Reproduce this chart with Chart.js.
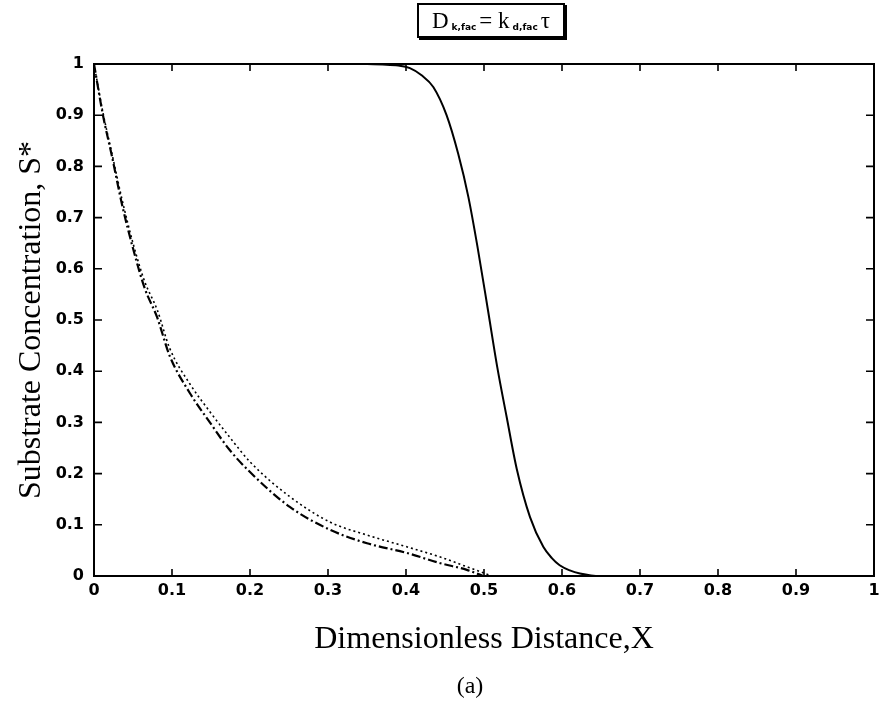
<!DOCTYPE html>
<html lang="en">
<head>
    <meta charset="UTF-8">
    <title>Substrate Concentration</title>
    <script src="https://cdn.jsdelivr.net/npm/chart.js"></script>
    <style>
        body { margin: 0; background: #fff; }
        .janela { position: relative; width: 879px; height: 706px; }
        .caixa-titulo {
            position: absolute; left: 417px; top: 3px; width: 144px; height: 31px;
            border: 2px solid #000; box-shadow: 2px 2px 0 #000;
            font-family: "Liberation Serif", serif; font-size: 23px; line-height: 31px;
            text-align: center; color: #000;
        }
        .caixa-titulo sub { font-family: "DejaVu Sans", sans-serif; font-weight: bold; font-size: 9px; vertical-align: -2px; margin: 0 3px; }
        .legenda-a {
            position: absolute; left: 0; width: 940px; top: 672px; text-align: center;
            font-family: "Liberation Serif", serif; font-size: 24px; color: #000;
        }
    </style>
</head>
<body>
<div class="janela">
    <canvas id="myChart"></canvas>
    <div class="caixa-titulo">D<sub>k,fac</sub>= k<sub>d,fac</sub>&tau;</div>
    <div class="legenda-a">(a)</div>
</div>

<script>
  // curva continua
  const xSolida = [0, 0.1, 0.2, 0.3, 0.35, 0.37, 0.39, 0.405, 0.42, 0.435, 0.452, 0.467, 0.48, 0.492, 0.505, 0.517, 0.529, 0.542, 0.559, 0.576, 0.587, 0.597, 0.61, 0.623, 0.649, 0.7, 0.8, 0.9, 1.0];
  const ySolida = [1, 1, 1, 1, 1, 0.999, 0.997, 0.992, 0.978, 0.955, 0.90, 0.824, 0.74, 0.64, 0.52, 0.408, 0.311, 0.209, 0.115, 0.057, 0.035, 0.021, 0.011, 0.005, 0, 0, 0, 0, 0];

  // curva tracejada
  const xTracejada = [0, 0.0115, 0.023, 0.036, 0.05, 0.065, 0.081, 0.097, 0.123, 0.149, 0.174, 0.2, 0.251, 0.303, 0.35, 0.401, 0.444, 0.478, 0.499];
  const yTracejada = [1, 0.9, 0.82, 0.725, 0.64, 0.562, 0.505, 0.43, 0.357, 0.299, 0.246, 0.203, 0.135, 0.090, 0.064, 0.045, 0.025, 0.012, 0];

  // curva pontilhada
  const xPontilhada = [0, 0.0115, 0.023, 0.036, 0.05, 0.065, 0.081, 0.097, 0.123, 0.149, 0.174, 0.2, 0.251, 0.303, 0.35, 0.401, 0.444, 0.478, 0.51];
  const yPontilhada = [1, 0.905, 0.825, 0.735, 0.65, 0.575, 0.52, 0.445, 0.375, 0.32, 0.271, 0.223, 0.155, 0.105, 0.080, 0.057, 0.037, 0.018, 0];

  const ticksX = [0, 0.1, 0.2, 0.3, 0.4, 0.5, 0.6, 0.7, 0.8, 0.9, 1];
  const ticksY = [0, 0.1, 0.2, 0.3, 0.4, 0.5, 0.6, 0.7, 0.8, 0.9, 1];

  function pontos(xs, ys) {
      return xs.map((x, i) => ({ x: x, y: ys[i] }));
  }

  function rotulo(v) {
      let r = Math.round(v * 10) / 10;
      return r === 0 ? '0' : r === 1 ? '1' : r.toFixed(1);
  }

  // moldura com marcas para dentro (estilo matlab)
  const moldura = {
      id: 'moldura',
      afterDraw(chart) {
          const ctx = chart.ctx;
          const a = chart.chartArea;
          const sx = chart.scales.x, sy = chart.scales.y;
          ctx.save();
          ctx.strokeStyle = '#000';
          ctx.lineWidth = 2;
          ctx.strokeRect(a.left, a.top, a.right - a.left, a.bottom - a.top);
          ctx.lineWidth = 1.6;
          ctx.beginPath();
          ticksX.forEach(function (t) {
              let px = sx.getPixelForValue(t);
              ctx.moveTo(px, a.bottom); ctx.lineTo(px, a.bottom - 7);
              ctx.moveTo(px, a.top); ctx.lineTo(px, a.top + 7);
          });
          ticksY.forEach(function (t) {
              let py = sy.getPixelForValue(t);
              ctx.moveTo(a.left, py); ctx.lineTo(a.left + 8, py);
              ctx.moveTo(a.right, py); ctx.lineTo(a.right - 8, py);
          });
          ctx.stroke();
          ctx.restore();
      }
  };

  const fonteTick = { family: '"DejaVu Sans", sans-serif', size: 16, weight: 'bold' };
  const fonteTitulo = { family: '"Liberation Serif", serif', size: 32 };

  const dados = {
      datasets: [{
          label: 'continua',
          data: pontos(xSolida, ySolida),
          borderColor: '#000',
          borderWidth: 2,
          cubicInterpolationMode: 'monotone',
          pointRadius: 0,
          clip: 4
      }, {
          label: 'tracejada',
          data: pontos(xTracejada, yTracejada),
          borderColor: '#000',
          borderWidth: 2.2,
          borderDash: [9, 3, 2, 3],
          cubicInterpolationMode: 'monotone',
          pointRadius: 0,
          clip: 4
      }, {
          label: 'pontilhada',
          data: pontos(xPontilhada, yPontilhada),
          borderColor: '#000',
          borderWidth: 1.6,
          borderDash: [2, 3],
          cubicInterpolationMode: 'monotone',
          pointRadius: 0,
          clip: 4
      }]
  };

  const config = {
      type: 'line',
      data: dados,
      options: {
          responsive: true,
          maintainAspectRatio: false,
          animation: false,
          layout: { padding: { left: 0, right: 5, top: 64, bottom: 43 } },
          plugins: { legend: { display: false }, tooltip: { enabled: false } },
          scales: {
              x: {
                  type: 'linear', min: 0, max: 1,
                  afterBuildTicks: function (s) { s.ticks = ticksX.map(v => ({ value: v })); },
                  afterFit: function (s) { s.height = 87; s.paddingRight = 0; s.paddingLeft = 0; },
                  grid: { display: false, drawTicks: false },
                  border: { display: false },
                  ticks: { color: '#000', font: fonteTick, padding: 5, maxRotation: 0, callback: rotulo },
                  title: { display: true, text: 'Dimensionless Distance,X', color: '#000', font: fonteTitulo, padding: { top: 0, bottom: 4 } }
              },
              y: {
                  type: 'linear', min: 0, max: 1,
                  afterBuildTicks: function (s) { s.ticks = ticksY.map(v => ({ value: v })); },
                  afterFit: function (s) { s.width = 94; },
                  grid: { display: false, drawTicks: false },
                  border: { display: false },
                  ticks: { color: '#000', font: fonteTick, padding: 10, callback: rotulo },
                  title: { display: true, text: 'Substrate Concentration, S*', color: '#000', font: fonteTitulo, padding: { top: 12, bottom: 0 } }
              }
          }
      },
      plugins: [moldura]
  };

  let myChart = new Chart(document.getElementById('myChart'), config);
</script>
</body>
</html>
